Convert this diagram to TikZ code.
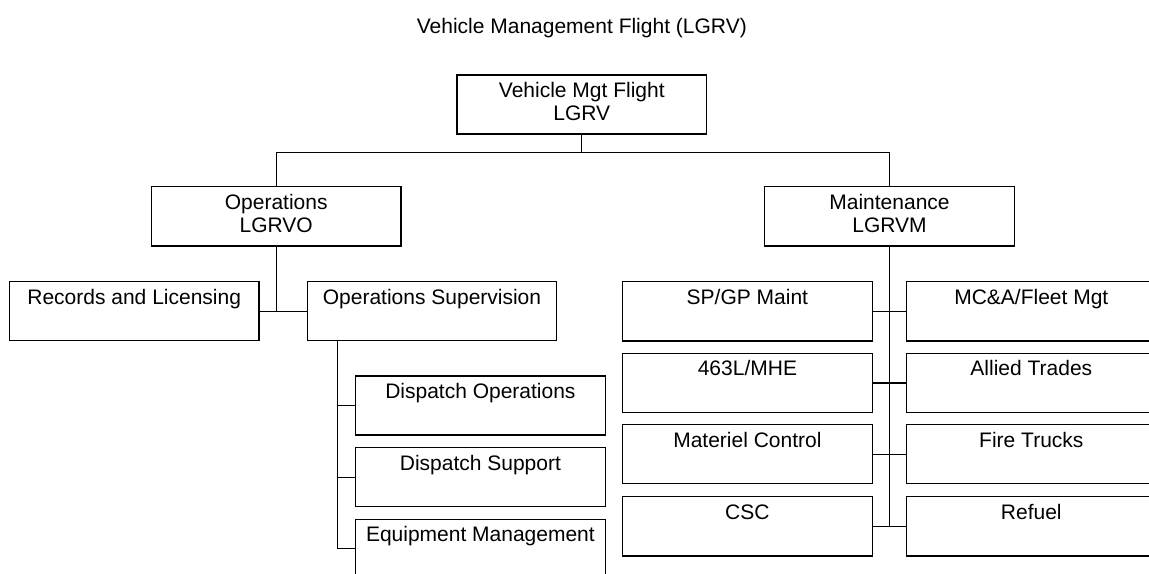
\documentclass[tikz,border=0pt]{standalone}
\usepackage{fontspec}
\setmainfont{Liberation Sans}
\begin{document}
\begin{tikzpicture}[x=0.5pt,y=-0.5pt,
  unitbox/.style={draw, line width=0.65pt, minimum width=124.75pt, minimum height=29.6pt,
    inner sep=0pt, align=center, font=\fontsize{10.5}{11.7}\selectfont},
  link/.style={line width=0.65pt}]
\clip (0,0) rectangle (1149,573);
\fill[white] (0,0) rectangle (1149,573);
\node[anchor=base, inner sep=0pt, font=\fontsize{10.5}{11.7}\selectfont] (title) at (581.8,33) {Vehicle Management Flight (LGRV)};
\node[unitbox] (top) at (581.8,104.5) {\strut Vehicle Mgt Flight\\\strut LGRV};
\node[unitbox] (ops) at (276.2,216.3) {\strut Operations\\\strut LGRVO};
\node[unitbox] (maint) at (889.5,216.3) {\strut Maintenance\\\strut LGRVM};
\node[unitbox] (rec) at (134.2,311.2) {\strut Records and Licensing\\\strut};
\node[unitbox] (opsup) at (432,311.2) {\strut Operations Supervision\\\strut};
\node[unitbox] (dops) at (480.4,405.5) {\strut Dispatch Operations\\\strut};
\node[unitbox] (dsup) at (480.4,477.2) {\strut Dispatch Support\\\strut};
\node[unitbox] (equip) at (480.4,548.8) {\strut Equipment Management\\\strut};
\node[unitbox] (spgp) at (747.4,311.3) {\strut SP/GP Maint\\\strut};
\node[unitbox] (mca) at (1031.3,311.3) {\strut MC\&A/Fleet Mgt\\\strut};
\node[unitbox] (mhe) at (747.4,382.9) {\strut 463L/MHE\\\strut};
\node[unitbox] (allied) at (1031.3,382.9) {\strut Allied Trades\\\strut};
\node[unitbox] (matc) at (747.4,454.2) {\strut Materiel Control\\\strut};
\node[unitbox] (fire) at (1031.3,454.2) {\strut Fire Trucks\\\strut};
\node[unitbox] (csc) at (747.4,526.3) {\strut CSC\\\strut};
\node[unitbox] (refuel) at (1031.3,526.3) {\strut Refuel\\\strut};
% top level
\coordinate (j) at (581.8,152.7);
\draw[link] (top.south) -- (j);
\draw[link] (ops.north) |- (j) -| (maint.north);
% operations
\draw[link] (ops.south) -- (ops.south |- rec.east);
\draw[link] (rec.east) -- (opsup.west);
\coordinate (osb) at ([xshift=15.5pt]opsup.south west);
\draw[link] (osb) |- (equip.west);
\draw[link] (osb |- dops.west) -- (dops.west);
\draw[link] (osb |- dsup.west) -- (dsup.west);
% maintenance
\draw[link] (maint.south) -- (maint.south |- csc.east);
\draw[link] (spgp.east) -- (mca.west);
\draw[link] (mhe.east) -- (allied.west);
\draw[link] (matc.east) -- (fire.west);
\draw[link] (csc.east) -- (refuel.west);
\end{tikzpicture}
\end{document}
